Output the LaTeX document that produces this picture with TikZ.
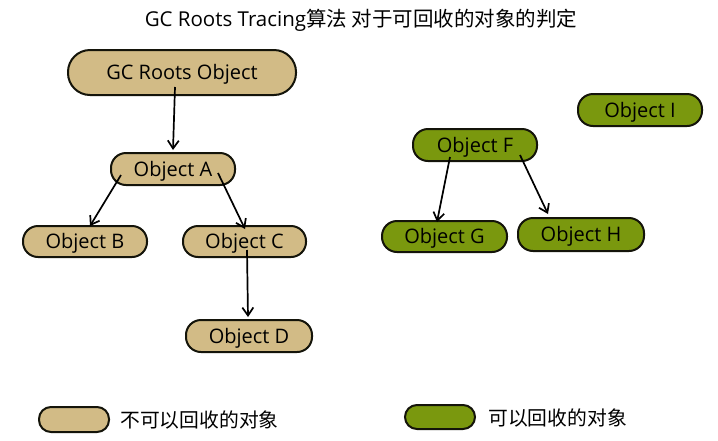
\documentclass[tikz,border=0pt]{standalone}
\usepackage{fontspec}
\setmainfont{Open Sans}
\newfontfamily\cjk{Noto Sans CJK SC}
\usetikzlibrary{arrows.meta,calc}
\definecolor{tanfill}{RGB}{210,187,134}
\definecolor{greenfill}{RGB}{122,152,14}
\definecolor{edgecol}{RGB}{20,20,10}
\begin{document}
\begin{tikzpicture}[x=1pt,y=-1pt,
  obj/.style={draw=edgecol,line width=2pt,rounded corners=15pt,inner sep=0pt,
    text height=16pt,text depth=2pt,
    font=\fontsize{20}{22}\selectfont,text=black},
  keep/.style={obj,fill=tanfill},
  free/.style={obj,fill=greenfill},
  link/.style={draw=black,line width=1.7pt,-{Straight Barb[length=8pt,width=11pt,line width=1.7pt]}},
  legtext/.style={anchor=west,inner sep=0pt,font=\cjk\fontsize{19.8}{22}\selectfont}]
\path[use as bounding box,fill=white] (0,0) rectangle (718,440);
\node[inner sep=0pt,font=\fontsize{20.5}{22}\selectfont] (title) at (361,20) {GC Roots Tracing{\cjk 算法 对于可回收的对象的判定}};
\node[keep,minimum width=228pt,minimum height=45pt,rounded corners=22pt] (root) at (182,72.5) {GC Roots Object};
\node[keep,minimum width=124pt,minimum height=32pt] (A) at (173,169) {Object A};
\node[keep,minimum width=124pt,minimum height=31pt] (B) at (85,241.5) {Object B};
\node[keep,minimum width=123pt,minimum height=31pt] (C) at (244.5,241.5) {Object C};
\node[keep,minimum width=126pt,minimum height=32pt] (D) at (249,336) {Object D};
\node[free,minimum width=124pt,minimum height=32pt] (F) at (475,145) {Object F};
\node[free,minimum width=125pt,minimum height=31pt] (G) at (444.5,236.5) {Object G};
\node[free,minimum width=126pt,minimum height=33pt] (H) at (581,234.5) {Object H};
\node[free,minimum width=124pt,minimum height=32pt] (I) at (640,110) {Object I};
\node[keep,minimum width=70pt,minimum height=25pt,rounded corners=12pt] (legkeep) at (74,419.5) {};
\node[free,minimum width=70pt,minimum height=24pt,rounded corners=12pt] (legfree) at (440,417) {};
\node[legtext] (legkeeptext) at (120,420) {不可以回收的对象};
\node[legtext] (legfreetext) at (488,418) {可以回收的对象};
\draw[link] ($(root.center)+(-7,14.5)$) -- ($(A.north)+(0,-2)$);
\draw[link] ($(A.center)+(-52,6)$) -- ($(B.north)+(5,1)$);
\draw[link] ($(A.center)+(45,4)$) -- ($(C.north)+(0.5,4)$);
\draw[link] ($(C.center)+(2.5,8.5)$) -- ($(D.north)+(-1,-2)$);
\draw[link] ($(F.center)+(-25,12)$) -- ($(G.north)+(-7.5,2)$);
\draw[link] ($(F.center)+(45,10)$) -- ($(H.north)+(-33,-3)$);
\end{tikzpicture}
\end{document}
